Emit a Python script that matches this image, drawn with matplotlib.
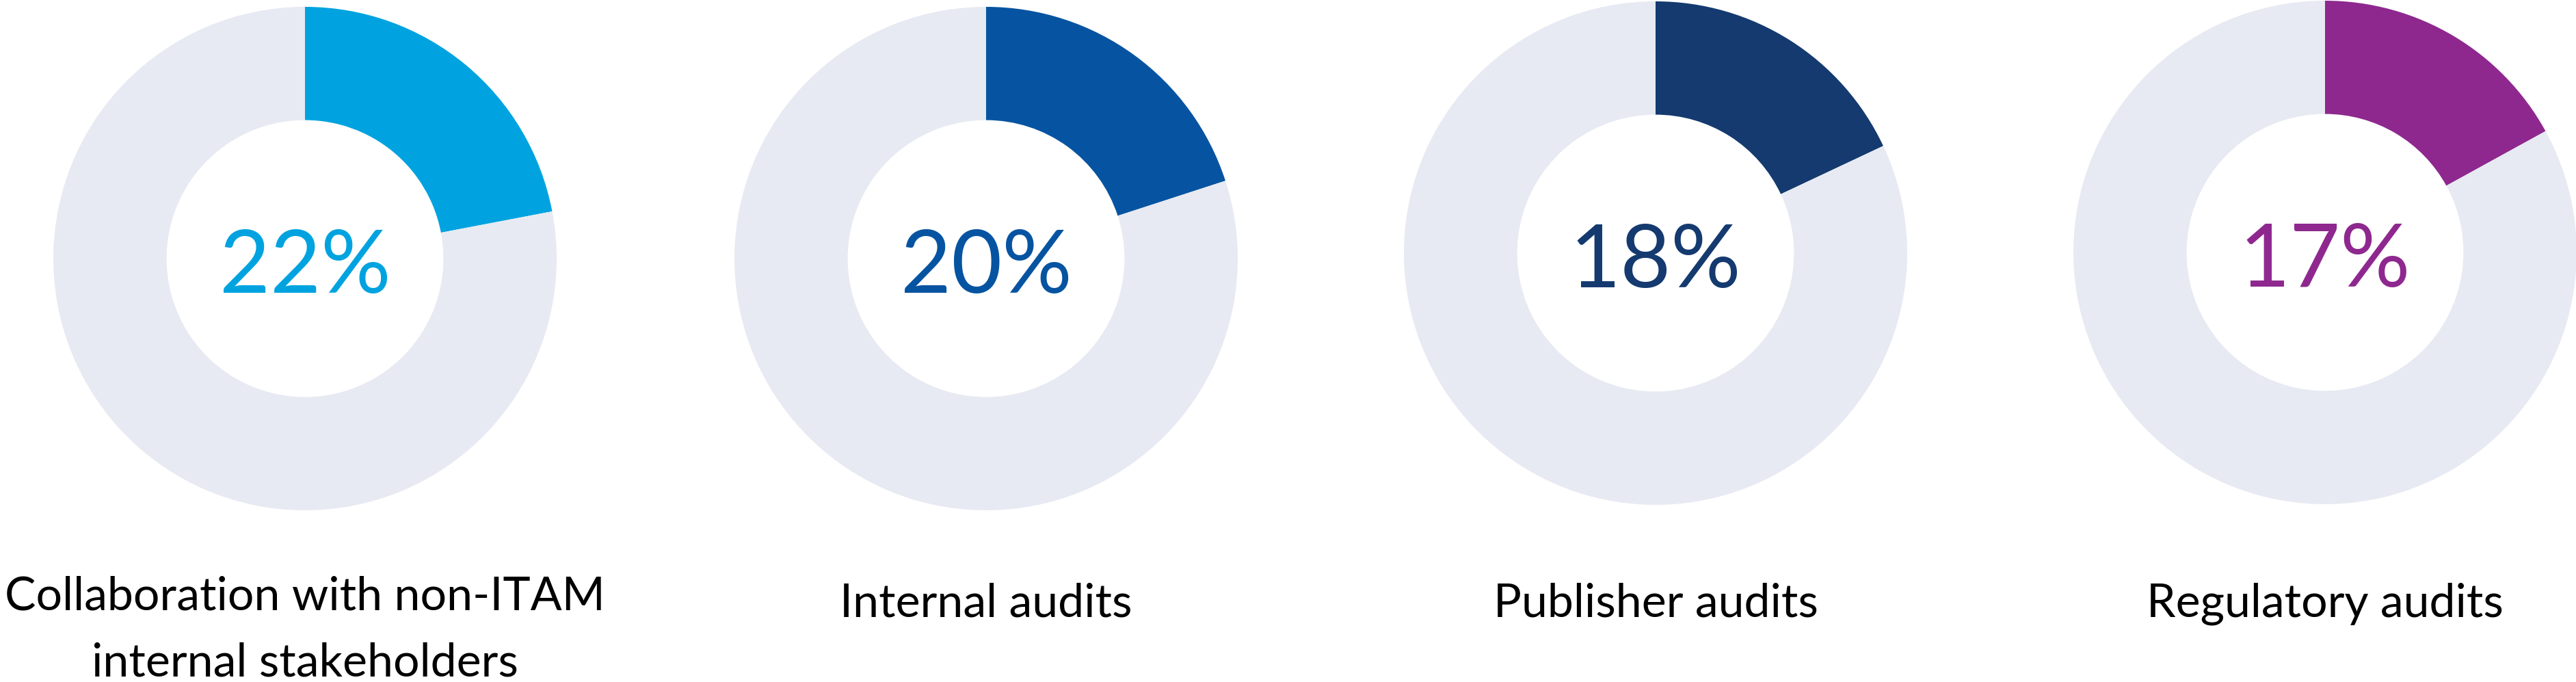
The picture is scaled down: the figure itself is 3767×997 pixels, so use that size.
import matplotlib
matplotlib.use("Agg")
import matplotlib.pyplot as plt

# ---- data ----
categories = ["Collaboration with non-ITAM\ninternal stakeholders",
              "Internal audits", "Publisher audits", "Regulatory audits"]
values = [22, 20, 18, 17]
pct_labels = ["22%", "20%", "18%", "17%"]
colors = ["#00A3DF", "#0654A1", "#143A6F", "#8E288F"]
rest_color = "#E7EAF2"

# ---- layout (pixels) ----
W, H = 3767, 997
DPI = 100
centers_x = [446, 1442, 2421, 3400]
centers_y = [378, 378, 370, 369]      # from top
R = 368
clip_right = [364, 364, 367, 367]
label_base_single = 901
label_base_first_two = 891
line_gap = 97

plt.rcParams['font.family'] = ['Lato', 'DejaVu Sans']
fig = plt.figure(figsize=(W / DPI, H / DPI), dpi=DPI)
fig.patch.set_facecolor("white")

for i in range(4):
    cx, cy, cr = centers_x[i], centers_y[i], clip_right[i]
    left = (cx - R) / W
    bottom = (H - (cy + R)) / H
    ax = fig.add_axes([left, bottom, (R + cr) / W, 2 * R / H])
    ax.pie([values[i], 100 - values[i]], colors=[colors[i], rest_color],
           startangle=90, counterclock=False, radius=1,
           wedgeprops=dict(width=0.45, edgecolor="none", linewidth=0))
    ax.set_aspect("auto")
    ax.set_xlim(-1, cr / R)
    ax.set_ylim(-1, 1)
    ax.axis("off")
    ax.text(0, -50 / R, pct_labels[i], ha="center", va="baseline",
            fontsize=92, color=colors[i])

    lines = categories[i].split("\n")
    base = label_base_single if len(lines) == 1 else label_base_first_two
    for k, ln in enumerate(lines):
        y = base + k * line_gap
        fig.text(cx / W, 1 - y / H, ln, ha="center", va="baseline",
                 fontsize=49, color="#000000")

fig.savefig("out.png", dpi=DPI, facecolor="white")
